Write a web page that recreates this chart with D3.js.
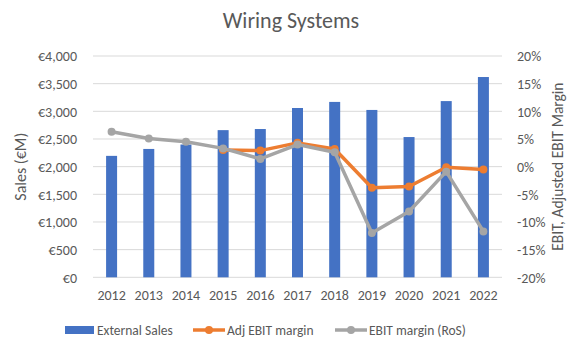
<!DOCTYPE html>
<html><head><meta charset="utf-8">
<script src="https://cdn.jsdelivr.net/npm/d3@7"></script>
<style>body{margin:0;background:#fff}text{font-family:Calibri,Carlito,"Open Sans",sans-serif;fill:#595959}</style>
</head><body>
<svg id="c" width="581" height="347"></svg>
<script>
const years = ["2012","2013","2014","2015","2016","2017","2018","2019","2020","2021","2022"];
const externalSales = [2195, 2320, 2400, 2660, 2680, 3060, 3170, 3025, 2535, 3185, 3620];
const adjEbitMargin = [null, null, null, 3.0, 2.9, 4.3, 3.2, -3.8, -3.6, -0.1, -0.5];
const ebitMargin = [6.3, 5.1, 4.5, 3.3, 1.4, 4.0, 2.6, -12.0, -8.1, -0.9, -11.7];
const salesTicks = [0, 500, 1000, 1500, 2000, 2500, 3000, 3500, 4000];
const marginTicks = [-20, -15, -10, -5, 0, 5, 10, 15, 20];

const svg = d3.select("#c");
const m = {l: 93, r: 502, t: 56, b: 277.3};
const x = d3.scaleBand().domain(years).range([m.l, m.r]);
const yL = d3.scaleLinear().domain([0, 4000]).range([m.b, m.t]);
const yR = d3.scaleLinear().domain([-20, 20]).range([m.b, m.t]);

svg.append("text").attr("x", 291).attr("y", 28).attr("text-anchor", "middle")
  .style("font-size", "22px").text("Wiring Systems");

// gridlines
svg.append("g").selectAll("line").data(salesTicks).join("line")
  .attr("x1", m.l).attr("x2", m.r).attr("y1", d => yL(d)).attr("y2", d => yL(d))
  .attr("stroke", "#d9d9d9").attr("stroke-width", 1);

// left axis
const axL = svg.append("g").attr("transform", `translate(${m.l - 13},0)`)
  .call(d3.axisLeft(yL).tickValues(salesTicks).tickSize(0).tickFormat(d => "€" + d3.format(",")(d)));
axL.select(".domain").remove();
axL.selectAll("text").style("font-size", "14px").attr("fill", "#595959").attr("dy", "0.35em");

// right axis
const axR = svg.append("g").attr("transform", `translate(${m.r + 12},0)`)
  .call(d3.axisRight(yR).tickValues(marginTicks).tickSize(0).tickFormat(d => d + "%"));
axR.select(".domain").remove();
axR.selectAll("text").style("font-size", "14px").attr("fill", "#595959").attr("dy", "0.35em");

// x axis
const axX = svg.append("g").attr("transform", `translate(0,${m.b + 10})`)
  .call(d3.axisBottom(x).tickSize(0));
axX.select(".domain").remove();
axX.selectAll("text").style("font-size", "14px").attr("fill", "#595959").attr("dy", "0.71em");

// axis titles
svg.append("text").attr("transform", `translate(26,${(m.t + m.b) / 2}) rotate(-90)`)
  .attr("text-anchor", "middle").style("font-size", "16px").text("Sales (€M)");
svg.append("text").attr("transform", `translate(563,${(m.t + m.b) / 2}) rotate(-90)`)
  .attr("text-anchor", "middle").style("font-size", "15.5px").text("EBIT, Adjusted EBIT Margin");

// bars
const bw = 11;
svg.append("g").selectAll("rect").data(externalSales).join("rect")
  .attr("x", (d, i) => x(years[i]) + x.bandwidth() / 2 - bw / 2)
  .attr("width", bw).attr("y", d => yL(d)).attr("height", d => yL(0) - yL(d))
  .attr("fill", "#4472c4");

function series(vals, color) {
  const pts = vals.map((v, i) => ({v, i})).filter(d => d.v !== null);
  const line = d3.line().x(d => x(years[d.i]) + x.bandwidth() / 2).y(d => yR(d.v));
  svg.append("path").datum(pts).attr("d", line).attr("fill", "none")
    .attr("stroke", color).attr("stroke-width", 3.5).attr("stroke-linejoin", "round");
  svg.append("g").selectAll("circle").data(pts).join("circle")
    .attr("cx", d => x(years[d.i]) + x.bandwidth() / 2).attr("cy", d => yR(d.v))
    .attr("r", 4).attr("fill", color);
}
series(adjEbitMargin, "#ed7d31");
series(ebitMargin, "#a5a5a5");

// legend
const lg = svg.append("g");
const ly = 330;
lg.append("rect").attr("x", 65).attr("y", ly - 4).attr("width", 29).attr("height", 8).attr("fill", "#4472c4");
lg.append("text").attr("x", 97).attr("y", ly).attr("dy", "0.35em").style("font-size", "13.5px").text("External Sales");
[[193, "#ed7d31", "Adj EBIT margin"], [335, "#a5a5a5", "EBIT margin (RoS)"]].forEach(([lx, c, t]) => {
  lg.append("line").attr("x1", lx).attr("x2", lx + 32).attr("y1", ly).attr("y2", ly).attr("stroke", c).attr("stroke-width", 3.5);
  lg.append("circle").attr("cx", lx + 16).attr("cy", ly).attr("r", 4).attr("fill", c);
  lg.append("text").attr("x", lx + 34).attr("y", ly).attr("dy", "0.35em").style("font-size", "13.5px").text(t);
});
</script>
</body></html>
